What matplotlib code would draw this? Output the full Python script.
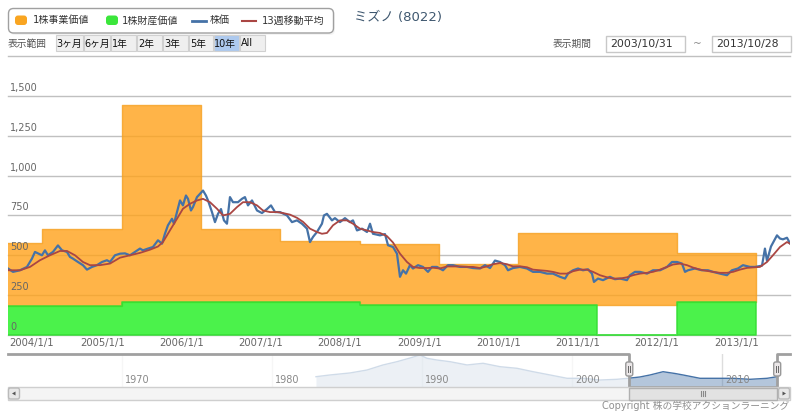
import matplotlib
matplotlib.use('Agg')
import matplotlib.pyplot as plt
import matplotlib.dates as mdates
from matplotlib.patches import FancyBboxPatch, Rectangle, Polygon
from matplotlib.transforms import blended_transform_factory, ScaledTranslation
from datetime import datetime, timedelta

plt.rcParams['font.family'] = ['DejaVu Sans', 'Noto Sans CJK JP']


def to_date(y):
    return datetime(2004, 1, 1) + timedelta(days=(y - 2004.0) * 365.25)


# ---------------- data ----------------
# fiscal-year blocks (per-share business value / asset value)
fy_edges = ['2003-10-01', '2004-04-01', '2005-04-01', '2006-04-01', '2007-04-01',
            '2008-04-01', '2009-04-01', '2010-04-01', '2011-04-01', '2012-04-01',
            '2013-04-01']
biz_value = [577, 667, 1442, 667, 590, 573, 446, 642, 642, 517]
biz_base = [180, 185, 205, 210, 205, 190, 190, 188, 187, 208]
asset_value = [180, 185, 205, 210, 205, 190, 190, 188, 0, 208]

# share price (decimal year, yen)
price_years = [
    2003.815, 2003.878, 2003.966, 2004.054, 2004.117, 2004.155, 2004.193, 2004.243, 2004.281, 2004.319,
    2004.382, 2004.445, 2004.496, 2004.559, 2004.596, 2004.634, 2004.697, 2004.760, 2004.811, 2004.874,
    2004.937, 2005.000, 2005.063, 2005.101, 2005.164, 2005.227, 2005.290, 2005.353, 2005.416, 2005.479,
    2005.517, 2005.580, 2005.643, 2005.706, 2005.757, 2005.794, 2005.832, 2005.883, 2005.908, 2005.946,
    2005.984, 2006.021, 2006.059, 2006.085, 2006.122, 2006.147, 2006.198, 2006.236, 2006.274, 2006.311,
    2006.337, 2006.387, 2006.425, 2006.463, 2006.501, 2006.538, 2006.576, 2006.614, 2006.652, 2006.715,
    2006.765, 2006.803, 2006.841, 2006.892, 2006.955, 2007.018, 2007.081, 2007.131, 2007.182, 2007.245,
    2007.333, 2007.396, 2007.459, 2007.522, 2007.585, 2007.623, 2007.661, 2007.711, 2007.774, 2007.799,
    2007.837, 2007.900, 2007.938, 2008.001, 2008.064, 2008.127, 2008.165, 2008.216, 2008.279, 2008.342,
    2008.380, 2008.417, 2008.506, 2008.569, 2008.607, 2008.670, 2008.720, 2008.758, 2008.796, 2008.834,
    2008.884, 2008.922, 2008.985, 2009.048, 2009.111, 2009.161, 2009.224, 2009.300, 2009.363, 2009.426,
    2009.514, 2009.603, 2009.678, 2009.767, 2009.830, 2009.893, 2009.956, 2010.019, 2010.082, 2010.120,
    2010.183, 2010.271, 2010.359, 2010.435, 2010.523, 2010.612, 2010.687, 2010.776, 2010.839, 2010.877,
    2010.940, 2011.003, 2011.066, 2011.129, 2011.179, 2011.204, 2011.255, 2011.318, 2011.406, 2011.469,
    2011.532, 2011.620, 2011.658, 2011.721, 2011.784, 2011.873, 2011.948, 2012.037, 2012.125, 2012.188,
    2012.251, 2012.314, 2012.352, 2012.390, 2012.477, 2012.566, 2012.642, 2012.705, 2012.793, 2012.881,
    2012.944, 2013.019, 2013.083, 2013.171, 2013.234, 2013.323, 2013.360, 2013.386, 2013.436, 2013.474,
    2013.512, 2013.550, 2013.587, 2013.638, 2013.676]
price_values = [
    417, 396, 406, 427, 479, 521, 512, 500, 531, 500,
    521, 562, 531, 521, 490, 479, 458, 438, 410, 427,
    438, 458, 469, 458, 500, 510, 512, 500, 521, 542,
    531, 542, 552, 594, 573, 635, 688, 729, 698, 771,
    844, 813, 875, 854, 781, 802, 865, 885, 906, 875,
    844, 771, 708, 760, 790, 719, 698, 865, 833, 833,
    854, 865, 813, 844, 781, 765, 790, 813, 771, 771,
    750, 708, 719, 698, 667, 583, 615, 646, 698, 750,
    760, 719, 733, 708, 733, 708, 719, 656, 667, 646,
    698, 635, 625, 633, 563, 552, 510, 365, 406, 385,
    438, 417, 438, 427, 396, 427, 427, 406, 438, 438,
    427, 427, 420, 417, 438, 420, 467, 458, 438, 406,
    420, 427, 417, 396, 396, 385, 385, 365, 354, 385,
    406, 417, 406, 412, 385, 333, 354, 344, 365, 350,
    354, 344, 375, 396, 396, 385, 406, 406, 427, 458,
    458, 448, 396, 406, 417, 406, 406, 396, 385, 375,
    406, 417, 438, 427, 427, 435, 542, 465, 555, 590,
    625, 605, 600, 610, 575]

# 13-week moving average (decimal year, yen)
ma_years = [
    2003.815, 2003.966, 2004.092, 2004.218, 2004.344, 2004.470, 2004.559, 2004.660, 2004.760, 2004.849,
    2004.975, 2005.101, 2005.227, 2005.353, 2005.479, 2005.605, 2005.706, 2005.769, 2005.857, 2005.946,
    2006.021, 2006.110, 2006.198, 2006.274, 2006.362, 2006.450, 2006.526, 2006.614, 2006.702, 2006.778,
    2006.866, 2006.955, 2007.030, 2007.118, 2007.207, 2007.282, 2007.371, 2007.459, 2007.535, 2007.623,
    2007.711, 2007.774, 2007.837, 2007.913, 2008.001, 2008.090, 2008.165, 2008.253, 2008.342, 2008.417,
    2008.506, 2008.594, 2008.670, 2008.758, 2008.846, 2008.922, 2009.010, 2009.098, 2009.174, 2009.262,
    2009.350, 2009.426, 2009.514, 2009.603, 2009.678, 2009.767, 2009.855, 2009.931, 2010.019, 2010.107,
    2010.183, 2010.271, 2010.359, 2010.435, 2010.523, 2010.612, 2010.687, 2010.776, 2010.864, 2010.940,
    2011.028, 2011.116, 2011.192, 2011.280, 2011.368, 2011.444, 2011.532, 2011.620, 2011.696, 2011.784,
    2011.873, 2011.948, 2012.037, 2012.125, 2012.200, 2012.289, 2012.377, 2012.452, 2012.541, 2012.629,
    2012.705, 2012.793, 2012.881, 2012.957, 2013.045, 2013.133, 2013.209, 2013.297, 2013.386, 2013.461,
    2013.550, 2013.638, 2013.676]
ma_values = [
    406, 406, 427, 469, 500, 527, 527, 500, 458, 438,
    438, 448, 485, 500, 515, 535, 555, 583, 656, 729,
    792, 823, 844, 854, 833, 792, 750, 760, 802, 833,
    833, 813, 781, 771, 771, 765, 755, 735, 710, 667,
    646, 635, 640, 688, 719, 719, 698, 667, 656, 646,
    640, 620, 580, 510, 458, 427, 420, 420, 422, 417,
    430, 430, 430, 427, 427, 420, 430, 444, 452, 444,
    430, 431, 425, 410, 406, 402, 396, 385, 385, 400,
    410, 410, 396, 375, 362, 354, 354, 362, 375, 385,
    390, 396, 410, 427, 442, 448, 438, 423, 410, 402,
    396, 390, 390, 396, 410, 421, 424, 427, 458, 500,
    552, 583, 573]

# navigator (long-term price history)
nav_years = [1982.93, 1983.87, 1985.20, 1986.33, 1987.40, 1988.33, 1989.20, 1989.87, 1990.33, 1991.00,
             1991.87, 1993.00, 1994.07, 1995.20, 1996.33, 1997.40, 1998.53, 1999.67, 2000.73, 2001.87,
             2003.00, 2003.73, 2004.53, 2005.20, 2006.07, 2006.87, 2007.40, 2008.53, 2009.67, 2010.73,
             2011.87, 2013.00, 2013.67]
nav_values = [510, 640, 790, 1010, 1390, 1635, 1910, 2140, 1890, 1760,
              1635, 1390, 1515, 1260, 1140, 885, 640, 390, 390, 260,
              315, 390, 490, 640, 885, 750, 640, 390, 390, 390,
              315, 390, 510]

x_tick_years = list(range(2004, 2014))
y_ticks = [0, 250, 500, 750, 1000, 1250, 1500, 1750]
nav_tick_years = [1970, 1980, 1990, 2000, 2010]

legend_labels = ['1株事業価値', '1株財産価値', '株価', '13週移動平均']
range_buttons = ['3ヶ月', '6ヶ月', '1年', '2年', '3年', '5年', '10年', 'All']
title_text = 'ミズノ (8022)'
date_from, date_to = '2003/10/31', '2013/10/28'

assert len(price_years) == len(price_values)
assert len(ma_years) == len(ma_values)

# ---------------- colours ----------------
C_ORANGE = '#FFA21A'
C_ORANGE_EDGE = '#F5A020'
C_GREEN = '#2BF02B'
C_GREEN_EDGE = '#33DD33'
C_PRICE = '#4572A7'
C_MA = '#AA4643'

W, H = 800, 413
fig = plt.figure(figsize=(W / 100, H / 100), dpi=100)


def px_rect(left, top, right, bottom):
    return [left / W, 1 - bottom / H, (right - left) / W, (bottom - top) / H]


# ---------------- main chart ----------------
ax = fig.add_axes(px_rect(8, 56, 790, 335))
x0, x1 = to_date(2003.815), to_date(2013.676)
ax.set_xlim(x0, x1)
ax.set_ylim(0, 1750)
for s in ax.spines.values():
    s.set_visible(False)
ax.set_yticks(y_ticks)
ax.set_xticks([])
ax.tick_params(axis='y', length=0, labelleft=False)
ax.yaxis.grid(True, color='#C0C0C0', lw=1)
ax.set_axisbelow(True)
for gl in ax.get_ygridlines():
    gl.set_clip_on(False)

edges = [datetime.strptime(d, '%Y-%m-%d') for d in fy_edges]
top_ext = biz_value + [biz_value[-1]]
base_ext = biz_base + [biz_base[-1]]
asset_ext = asset_value + [asset_value[-1]]
zero_ext = [0] * len(edges)

ax.fill_between(edges, base_ext, top_ext, step='post', facecolor=C_ORANGE, alpha=0.8,
                edgecolor=C_ORANGE_EDGE, lw=1, zorder=1)
ax.fill_between(edges, zero_ext, asset_ext, step='post', facecolor=C_GREEN, alpha=0.85,
                edgecolor=C_GREEN_EDGE, lw=1.2, zorder=2)

ax.plot([to_date(y) for y in price_years], price_values, color=C_PRICE, lw=1.6, zorder=4)
ax.plot([to_date(y) for y in ma_years], ma_values, color=C_MA, lw=1.3, zorder=5)

ytr = blended_transform_factory(ax.transAxes, ax.transData)
for v in y_ticks[:-1]:
    ax.text(0, v, f'{v:,}', transform=ytr + ScaledTranslation(2 / 100, 3 / 100, fig.dpi_scale_trans),
            ha='left', va='bottom', fontsize=7, color='#666666', zorder=6)

xtr = blended_transform_factory(ax.transData, ax.transAxes)
for i, yr in enumerate(x_tick_years):
    dx = 9 if i == 0 else 0
    ax.text(datetime(yr, 1, 1), 0, f'{yr}/1/1',
            transform=xtr + ScaledTranslation(dx / 100, -3 / 100, fig.dpi_scale_trans),
            ha='center', va='top', fontsize=7.2, color='#666666', clip_on=False)

# ---------------- navigator ----------------
nav = fig.add_axes(px_rect(8, 354, 790, 387))
n0, n1 = to_date(1962.40), to_date(2014.53)
nav.set_xlim(n0, n1)
nav_ymin = -262
nav.set_ylim(nav_ymin, 2212)
nav.set_xticks([])
nav.set_yticks([])
for s in nav.spines.values():
    s.set_visible(False)
for yr in nav_tick_years:
    nav.axvline(datetime(yr, 1, 1), color='#DDDDDD', lw=1, zorder=0)
nd = [to_date(y) for y in nav_years]
nav.fill_between(nd, nav_values, nav_ymin, color=C_PRICE, alpha=0.4, lw=0, zorder=1)
nav.plot(nd, nav_values, color=C_PRICE, lw=1, zorder=2)
nav.axvspan(n0, x0, color='white', alpha=0.75, lw=0, zorder=3)
nav.axvspan(x1, n1, color='white', alpha=0.75, lw=0, zorder=3)
ntr = blended_transform_factory(nav.transData, nav.transAxes)
for yr in nav_tick_years:
    nav.text(datetime(yr, 1, 1), 0, str(yr),
             transform=ntr + ScaledTranslation(3 / 100, 2 / 100, fig.dpi_scale_trans),
             ha='left', va='bottom', fontsize=7, color='#888888', zorder=4)
nav.plot([n0, x0, x0, x1, x1, n1], [1, 1, 0, 0, 1, 1], transform=ntr, color='#A0A0A0',
         lw=2, clip_on=False, zorder=5)

# ---------------- overlay (page furniture) ----------------
ov = fig.add_axes([0, 0, 1, 1])
ov.set_xlim(0, W)
ov.set_ylim(H, 0)
ov.axis('off')
ov.patch.set_alpha(0)

fig.canvas.draw()
sel_l = nav.transData.transform((mdates.date2num(x0), 0))[0]
sel_r = nav.transData.transform((mdates.date2num(x1), 0))[0]

# scrollbar
ov.add_patch(Rectangle((8, 387), 782, 13, fc='#F4F4F4', ec='#CFCFCF', lw=1))
ov.add_patch(FancyBboxPatch((8.5, 388), 11, 11, boxstyle='round,pad=0,rounding_size=2',
                            fc='#E8E8E8', ec='#BBBBBB', lw=1))
ov.add_patch(FancyBboxPatch((778.5, 388), 11, 11, boxstyle='round,pad=0,rounding_size=2',
                            fc='#E8E8E8', ec='#BBBBBB', lw=1))
ov.add_patch(Polygon([(12, 393.5), (15.5, 391.5), (15.5, 395.5)], closed=True, fc='#555555', ec='none'))
ov.add_patch(Polygon([(786, 393.5), (782.5, 391.5), (782.5, 395.5)], closed=True, fc='#555555', ec='none'))
ov.add_patch(Rectangle((sel_l, 387.5), sel_r - sel_l, 12, fc='#E2E2E2', ec='#B0B0B0', lw=1))
cx = (sel_l + sel_r) / 2
for d in (-2, 0, 2):
    ov.plot([cx + d, cx + d], [391, 396], color='#888888', lw=0.8)

# navigator handles
for hx in (sel_l, sel_r):
    ov.add_patch(FancyBboxPatch((hx - 3.5, 362), 7, 14, boxstyle='round,pad=0,rounding_size=2',
                                fc='#EBE7E8', ec='#999999', lw=1, zorder=6))
    for d in (-1, 1):
        ov.plot([hx + d, hx + d], [366, 372], color='#666666', lw=0.7, zorder=7)

# legend
ov.add_patch(FancyBboxPatch((10, 10), 325, 25, boxstyle='round,pad=0,rounding_size=5',
                            fc='#EEEEEE', ec='none', alpha=0.6))
ov.add_patch(FancyBboxPatch((8.5, 8.5), 325, 24.5, boxstyle='round,pad=0,rounding_size=5',
                            fc='white', ec='#A0A0A0', lw=1))
ov.add_patch(FancyBboxPatch((15, 15.5), 12, 9.5, boxstyle='round,pad=0,rounding_size=3',
                            fc='#F9A521', ec='none'))
ov.text(33, 20.5, legend_labels[0], fontsize=7.2, color='#333333', va='center', ha='left')
ov.add_patch(FancyBboxPatch((106, 15.5), 12, 9.5, boxstyle='round,pad=0,rounding_size=3',
                            fc='#3BE63B', ec='none'))
ov.text(122, 20.5, legend_labels[1], fontsize=7.2, color='#333333', va='center', ha='left')
ov.plot([192, 206], [20.5, 20.5], color=C_PRICE, lw=2)
ov.text(210, 20.5, legend_labels[2], fontsize=7.2, color='#333333', va='center', ha='left')
ov.plot([242, 256], [20.5, 20.5], color=C_MA, lw=1.5)
ov.text(262, 20.5, legend_labels[3], fontsize=7.2, color='#333333', va='center', ha='left')

# title
ov.text(354, 17, title_text, fontsize=9.5, color='#3E576F', va='center', ha='left')

# range selector
ov.text(8, 43.5, '表示範囲', fontsize=7, color='#555555', va='center', ha='left')
btn_edges = [55, 83, 110, 136, 162, 188, 213, 239, 265]
btn_text_x = [56, 84, 112, 138, 164, 190, 214, 241]
for i, lab in enumerate(range_buttons):
    l, r = btn_edges[i], btn_edges[i + 1]
    sel = (lab == '10年')
    ov.add_patch(Rectangle((l + 0.5, 35), r - l - 1, 16, fc='#ADC9EE' if sel else '#EFEFEF',
                           ec='#D0D0D0', lw=0.8))
    ov.text(btn_text_x[i], 43.5, lab, fontsize=7, color='#111111', va='center', ha='left')

# date inputs
ov.text(553, 43.5, '表示期間', fontsize=7, color='#555555', va='center', ha='left')
ov.add_patch(Rectangle((605.5, 35.5), 79, 16, fc='white', ec='#C8C8C8', lw=1))
ov.text(610, 43.5, date_from, fontsize=7.8, color='#333333', va='center', ha='left')
ov.text(697, 44, '~', fontsize=7.5, color='#888888', va='center', ha='center')
ov.add_patch(Rectangle((711.5, 35.5), 79, 16, fc='white', ec='#C8C8C8', lw=1))
ov.text(716, 43.5, date_to, fontsize=7.8, color='#333333', va='center', ha='left')

# copyright
ov.text(789, 406, 'Copyright 株の学校アクションラーニング', fontsize=7, color='#909090',
        va='center', ha='right')

fig.savefig('out.png', dpi=100)
